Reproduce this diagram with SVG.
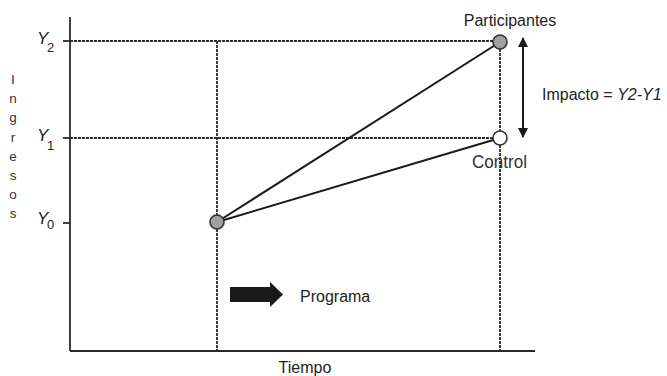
<svg xmlns="http://www.w3.org/2000/svg" width="667" height="376" viewBox="0 0 667 376">
<defs>
<style>
.ax{stroke:#2a2a2a;stroke-width:1.8;fill:none}
.dot{stroke:#2a2a2a;stroke-width:1.8;stroke-dasharray:3 1;fill:none}
.ln{stroke:#1a1a1a;stroke-width:2;fill:none}
.t{font-family:"Liberation Sans",Arial,sans-serif;font-size:16px;fill:#222}
.v{font-family:"Liberation Sans",Arial,sans-serif;font-size:13.5px;fill:#333;text-anchor:middle}
.y{font-family:"Liberation Sans",Arial,sans-serif;font-style:italic;font-size:17px;fill:#222}
.s{font-family:"Liberation Sans",Arial,sans-serif;font-size:13px;fill:#222}
.pt{stroke:#333;stroke-width:1.6}
</style>
<marker id="ah" viewBox="0 0 10 10" refX="9" refY="5" markerWidth="10" markerHeight="10" markerUnits="userSpaceOnUse" orient="auto-start-reverse">
<path d="M0,0 L10,5 L0,10 z" fill="#1a1a1a"/>
</marker>
</defs>
<rect width="667" height="376" fill="#fff"/>
<g id="axes">
<line class="ax" x1="70" y1="17" x2="70" y2="351"/>
<line class="ax" x1="70" y1="351" x2="535" y2="351"/>
<line class="ax" x1="63" y1="41" x2="70" y2="41"/>
<line class="ax" x1="63" y1="138" x2="70" y2="138"/>
<line class="ax" x1="63" y1="223" x2="70" y2="223"/>
</g>
<g id="axis-labels">
<text class="y" x="37" y="44">Y</text><text class="s" x="47" y="52">2</text>
<text class="y" x="37" y="141">Y</text><text class="s" x="47" y="150">1</text>
<text class="y" x="37" y="224">Y</text><text class="s" x="47" y="229">0</text>
<g id="ingresos">
<text class="v" x="13" y="84">I</text>
<text class="v" x="13" y="103">n</text>
<text class="v" x="13" y="122">g</text>
<text class="v" x="13" y="142">r</text>
<text class="v" x="13" y="161">e</text>
<text class="v" x="13" y="180">s</text>
<text class="v" x="13" y="199">o</text>
<text class="v" x="13" y="218">s</text>
</g>
<text class="t" x="305" y="373" text-anchor="middle">Tiempo</text>
</g>
<g id="connectors">
<line class="dot" x1="70" y1="41" x2="494" y2="41"/>
<line class="dot" x1="70" y1="138" x2="493" y2="138"/>
<line class="dot" x1="217" y1="41" x2="217" y2="351"/>
<line class="dot" x1="500" y1="49" x2="500" y2="351"/>
<line class="ln" x1="217" y1="222" x2="500" y2="42"/>
<line class="ln" x1="217" y1="222" x2="500" y2="138"/>
<line class="ln" x1="523" y1="38" x2="523" y2="137" stroke-width="1.6" marker-start="url(#ah)" marker-end="url(#ah)"/>
</g>
<g id="node-y0"><circle class="pt" cx="217" cy="222" r="7" fill="#a0a0a0"/></g>
<g id="node-participantes">
<circle class="pt" cx="500" cy="42" r="7" fill="#a0a0a0"/>
<text class="t" x="510" y="26" text-anchor="middle">Participantes</text>
</g>
<g id="node-control">
<circle class="pt" cx="500" cy="138" r="7" fill="#fff"/>
<text x="472" y="168" font-family="'Liberation Sans',Arial,sans-serif" font-size="18" fill="#333" textLength="55" lengthAdjust="spacingAndGlyphs">Control</text>
</g>
<g id="impacto">
<text class="t" x="542" y="100">Impacto = <tspan font-style="italic">Y2-Y1</tspan></text>
</g>
<g id="programa">
<path d="M230,287 H270 V282 L283,294.5 L270,307 V302 H230 z" fill="#1a1a1a"/>
<text class="t" x="300" y="302">Programa</text>
</g>
</svg>
